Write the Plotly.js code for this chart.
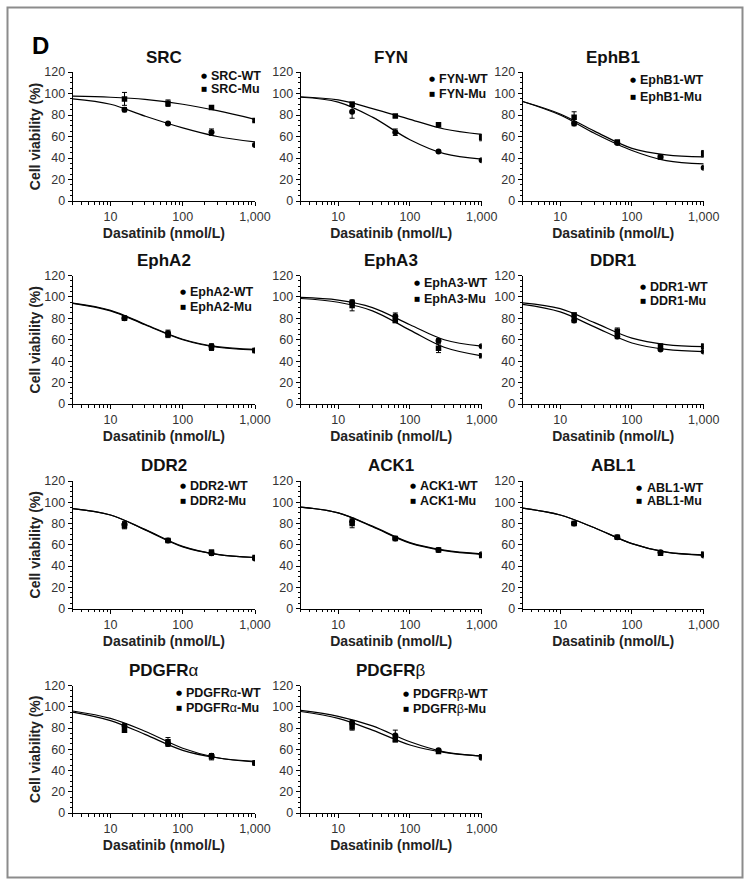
<!DOCTYPE html>
<html><head><meta charset="utf-8">
<script src="https://cdn.plot.ly/plotly-3.0.1.min.js"></script>
<style>html,body{margin:0;padding:0;background:#fff}</style>
</head><body><div id="chart" style="width:750px;height:886px"></div>
<script>
// ---------------- DATA ----------------
const kinases = ['SRC','FYN','EphB1','EphA2','EphA3','DDR1','DDR2','ACK1','ABL1','PDGFR\u03b1','PDGFR\u03b2'];
const doseNmol = [15.625, 62.5, 250, 1000];
const fitDoseNmol = [3, 10, 30, 100, 300, 1000];
const wtViability = [
  [85, 72, 64, 52],   // SRC
  [83, 64, 46, 38],   // FYN
  [72, 54, 41, 31],   // EphB1
  [80, 66, 54, 50],   // EphA2
  [95, 82, 59, 54],   // EphA3
  [78, 63, 51, 49],   // DDR1
  [79, 64, 52, 47],   // DDR2
  [82, 66, 55, 51],   // ACK1
  [80, 67, 53, 50],   // ABL1
  [82, 65, 54, 47],   // PDGFRa
  [85, 73, 59, 52]    // PDGFRb
];
const wtError = [
  [2, 1, 3, 1], [6, 3, 1, 1], [2, 1, 1, 1], [2, 3, 2, 1], [2, 3, 2, 1], [2, 2, 1, 1],
  [3, 1, 2, 1], [3, 1, 1, 1], [1, 1, 1, 1], [2, 2, 2, 1], [2, 5, 1, 1]
];
const muViability = [
  [95, 91, 87, 75],
  [90, 79, 71, 59],
  [78, 55, 41, 44],
  [80, 65, 53, 50],
  [92, 78, 52, 45],
  [83, 68, 54, 54],
  [78, 64, 53, 48],
  [80, 66, 55, 50],
  [80, 67, 52, 51],
  [78, 67, 53, 47],
  [81, 69, 58, 53]
];
const muError = [
  [6, 3, 1, 1], [2, 1, 1, 3], [5, 1, 1, 3], [2, 3, 3, 1], [5, 2, 4, 1], [2, 3, 2, 2],
  [3, 1, 2, 1], [4, 1, 1, 2], [1, 1, 1, 2], [2, 4, 3, 1], [3, 2, 1, 1]
];
const wtFit = [
  [95, 90, 79, 68, 60, 55],
  [96.5, 92, 78, 57, 44, 39],
  [92.6, 80, 63, 47, 37.5, 34.5],
  [94, 87, 74, 60, 53, 50.5],
  [99.5, 97, 90, 74, 60, 54],
  [93, 86, 72, 57, 51, 49],
  [94, 88, 74, 58, 51, 48],
  [95.5, 90, 77, 61.5, 54.5, 51],
  [94.5, 88, 76, 61, 53, 50],
  [96, 89, 77, 61, 52, 48],
  [96.5, 91, 82, 67, 57.5, 53.5]
];
const muFit = [
  [97.5, 96.5, 94.5, 90, 84, 76],
  [97, 94, 86, 76, 67, 62],
  [92.6, 81, 65, 49, 43, 41],
  [94.2, 87.5, 74.5, 60.5, 53.5, 51],
  [98.5, 95, 87, 69, 53, 45],
  [94.5, 89, 76, 61.5, 55.5, 53.5],
  [94, 88, 74.5, 58.5, 51, 48],
  [95.5, 90, 77.5, 62, 55, 51.5],
  [94.5, 88, 76, 61, 53, 50.5],
  [95, 87, 74, 59, 52, 48.5],
  [95.5, 89, 78, 64, 57, 53.5]
];
const xTickVals = [10, 100, 1000];
const xTickText = ['10', '100', '1,000'];
const yTickVals = [0, 20, 40, 60, 80, 100, 120];

// ---------------- LAYOUT ----------------
const W = 750, H = 886;
const FONT = 'Liberation Sans, Arial, Helvetica, sans-serif';
const colPx = [[72.7, 255], [300.7, 481.7], [522.7, 703.7]];
const rowPx = [[72, 201], [275.5, 404], [481, 608.5], [685.5, 813]];
// legend placement: [marker x offset from axis left, row1 offset from top, row2 offset from top]
const legendPos = [[131,4,17.3],[131,7,22.3],[110,8,24.7],[110,16.7,31.7],[116,7.7,23.3],[120,11,25],
                   [110,5,20],[112,5,20],[116.6,6.6,20],[106,7.6,22.6],[105,8.6,23.6]];
const px2x = p => p / W;
const px2y = p => 1 - p / H;

const minorVals = [];
[1, 10, 100].forEach(d => { for (let k = 2; k <= 9; k++) if (k * d >= 3 && k * d < 1000) minorVals.push(k * d); });

const data = [];
const layout = {
  width: W, height: H,
  margin: {l: 0, r: 0, t: 0, b: 0},
  paper_bgcolor: '#fff', plot_bgcolor: 'rgba(0,0,0,0)',
  showlegend: false,
  font: {family: FONT, color: '#222'},
  annotations: [],
  shapes: [{type: 'rect', xref: 'paper', yref: 'paper', x0: px2x(7.5), x1: px2x(742.5), y0: px2y(877.5), y1: px2y(7.5),
            line: {color: '#8c8c8c', width: 2}, fillcolor: 'rgba(0,0,0,0)'}]
};

function titleHtml(name) {
  return name.replace(/([\u03b1\u03b2])/, '<span style="font-weight:normal">$1</span>');
}

kinases.forEach((name, i) => {
  const r = Math.floor(i / 3), c = i % 3;
  const sfx = i === 0 ? '' : String(i + 1);
  const xa = 'x' + sfx, ya = 'y' + sfx;
  const [xl, xr] = colPx[c];
  const [yt, yb] = rowPx[r];

  layout['xaxis' + sfx] = {
    type: 'log', range: [Math.log10(3), 3], domain: [px2x(xl), px2x(xr)], anchor: ya,
    showline: true, linecolor: '#000', linewidth: 1, showgrid: false, zeroline: false,
    ticks: 'outside', ticklen: 4, tickwidth: 1, tickcolor: '#000',
    tickvals: xTickVals, ticktext: xTickText,
    tickfont: {family: FONT, size: 12.5, color: '#333'},
    minor: {tickvals: minorVals, ticks: 'outside', ticklen: 2.5, tickwidth: 1, tickcolor: '#000', showgrid: false},
    title: {text: '<b>Dasatinib (nmol/L)</b>', font: {family: FONT, size: 14, color: '#222'}, standoff: 5},
    automargin: false, fixedrange: true
  };
  layout['yaxis' + sfx] = {
    range: [0, 120], domain: [px2y(yb), px2y(yt)], anchor: xa,
    showline: true, linecolor: '#000', linewidth: 1, showgrid: false, zeroline: false,
    ticks: 'outside', ticklen: 4, tickwidth: 1, tickcolor: '#000',
    tickvals: yTickVals,
    tickfont: {family: FONT, size: 12.5, color: '#333'},
    minor: {dtick: 5, ticks: 'outside', ticklen: 2, tickwidth: 1, tickcolor: '#000', showgrid: false},
    title: c === 0 ? {text: '<b>Cell viability (%)</b>', font: {family: FONT, size: 14, color: '#222'}, standoff: 0} : {text: ''},
    automargin: false, fixedrange: true
  };

  // fitted curves
  [wtFit[i], muFit[i]].forEach(curve => data.push({
    type: 'scatter', mode: 'lines', x: fitDoseNmol, y: curve, xaxis: xa, yaxis: ya,
    line: {color: '#000', width: 1.2, shape: 'spline', smoothing: 1}, hoverinfo: 'skip'
  }));
  // data points
  data.push({
    type: 'scatter', mode: 'markers', name: name + '-WT', x: doseNmol, y: wtViability[i], xaxis: xa, yaxis: ya,
    marker: {symbol: 'circle', size: 6, color: '#000'},
    error_y: {type: 'data', array: wtError[i], visible: true, color: '#000', thickness: 1, width: 2.5}
  });
  data.push({
    type: 'scatter', mode: 'markers', name: name + '-Mu', x: doseNmol, y: muViability[i], xaxis: xa, yaxis: ya,
    marker: {symbol: 'square', size: 5.5, color: '#000'},
    error_y: {type: 'data', array: muError[i], visible: true, color: '#000', thickness: 1, width: 2.5}
  });

  // panel title
  layout.annotations.push({
    xref: 'paper', yref: 'paper', x: px2x((xl + xr) / 2), y: px2y(yt - 15),
    text: '<b>' + titleHtml(name) + '</b>', showarrow: false, xanchor: 'center', yanchor: 'middle',
    font: {family: FONT, size: 17, color: '#111'}
  });
  // legend (marker glyph + label)
  const [lx, l1, l2] = legendPos[i];
  [[l1, '\u25cf', '-WT', 7], [l2, '\u25a0', '-Mu', 6.5]].forEach(([off, glyph, suffix, gs]) => {
    layout.annotations.push({
      xref: 'paper', yref: 'paper', x: px2x(xl + lx), y: px2y(yt + off),
      text: glyph, showarrow: false, xanchor: 'center', yanchor: 'middle',
      font: {family: 'DejaVu Sans', size: gs, color: '#000'}
    });
    layout.annotations.push({
      xref: 'paper', yref: 'paper', x: px2x(xl + lx + 5.5), y: px2y(yt + off),
      text: '<b>' + titleHtml(name) + suffix + '</b>', showarrow: false, xanchor: 'left', yanchor: 'middle',
      font: {family: FONT, size: 12.5, color: '#111'}
    });
  });
});

// panel letter
layout.annotations.push({
  xref: 'paper', yref: 'paper', x: px2x(29.5), y: px2y(45), text: '<b>D</b>', showarrow: false,
  xanchor: 'left', yanchor: 'middle', font: {family: FONT, size: 24, color: '#000'}
});

Plotly.newPlot('chart', data, layout, {staticPlot: true, displayModeBar: false});
</script>
</body></html>
